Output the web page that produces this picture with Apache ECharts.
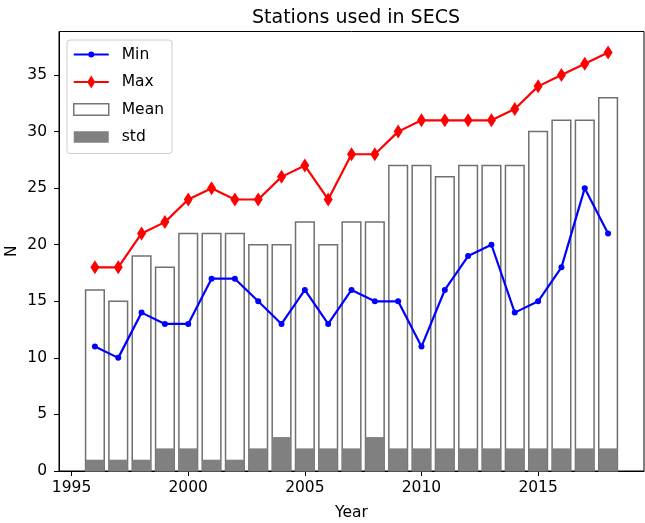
<!DOCTYPE html>
<html>
<head>
<meta charset="utf-8">
<script src="https://cdn.jsdelivr.net/npm/echarts@6/dist/echarts.min.js"></script>
<style>html,body{margin:0;padding:0;background:#fff}#c{width:645px;height:523px}</style>
</head>
<body>
<div id="c"></div>
<script>
var years = [1996,1997,1998,1999,2000,2001,2002,2003,2004,2005,2006,2007,2008,2009,2010,2011,2012,2013,2014,2015,2016,2017,2018];
var minVals = [11,10,14,13,13,17,17,15,13,16,13,16,15,15,11,16,19,20,14,15,18,25,21];
var maxVals = [18,18,21,22,24,25,24,24,26,27,24,28,28,30,31,31,31,31,32,34,35,36,37];
var meanVals = [16,15,19,18,21,21,21,20,20,22,20,22,22,27,27,26,27,27,27,30,31,31,33];
var stdVals = [1,1,1,2,2,1,1,2,3,2,2,2,3,2,2,2,2,2,2,2,2,2,2];
var xTicks = [1995,2000,2005,2010,2015];
var yTicks = [0,5,10,15,20,25,30,35];

var FONT = 'DejaVu Sans';
var chart = echarts.init(document.getElementById('c'), null, {renderer: 'canvas'});

function pairs(vals){ return years.map(function(y,i){ return [y, vals[i]]; }); }

function barRender(fill, stroke, lw) {
  return function(params, api) {
    var x = api.value(0), v = api.value(1);
    var p0 = api.coord([x - 0.4, v]);
    var p1 = api.coord([x + 0.4, 0]);
    return {
      type: 'rect',
      shape: {x: p0[0], y: p0[1], width: p1[0] - p0[0], height: p1[1] - p0[1]},
      style: {fill: fill, stroke: stroke, lineWidth: lw}
    };
  };
}

var diamond = 'path://M0,-1L0.6,0L0,1L-0.6,0Z';
var iconMin = 'path://M0,5.5L14.6,5.5L14.6,7.5L0,7.5Z M20.4,5.5L35,5.5L35,7.5L20.4,7.5Z M20.5,6.5A3,3 0 1,1 14.5,6.5A3,3 0 1,1 20.5,6.5Z M0,0L0.01,0L0.01,0.01Z M0,13L0.01,13L0.01,12.99Z';
var iconMax = 'path://M0,5.5L13.8,5.5L13.8,7.5L0,7.5Z M21.2,5.5L35,5.5L35,7.5L21.2,7.5Z M17.5,0L21.5,6.5L17.5,13L13.5,6.5Z';
var iconRect = 'path://M0,0L33,0L33,11L0,11Z';

chart.setOption({
  animation: false,
  title: {
    text: 'Stations used in SECS',
    left: 351, top: 4, textAlign: 'center',
    textStyle: {fontFamily: FONT, fontSize: 19, fontWeight: 'normal', color: '#000'}
  },
  grid: {left: 59, right: 1, top: 31.5, bottom: 52, containLabel: false, outerBoundsMode: 'none', show: true, borderColor: '#000', borderWidth: 1, backgroundColor: 'transparent'},
  legend: {
    orient: 'vertical', left: 67, top: 40,
    itemWidth: 35, itemHeight: 13, itemGap: 11.5,
    padding: [6.5, 8, 8.5, 6],
    borderColor: '#cccccc', borderWidth: 1, borderRadius: 3,
    backgroundColor: 'rgba(255,255,255,0.8)',
    textStyle: {fontFamily: FONT, fontSize: 15.5, color: '#000', padding: [0,0,0,8]},
    data: [
      {name: 'Min', icon: iconMin, itemStyle: {color: '#0000ff', borderWidth: 0}},
      {name: 'Max', icon: iconMax, itemStyle: {color: '#ff0000', borderWidth: 0}},
      {name: 'Mean', icon: iconRect, itemStyle: {color: '#ffffff', borderColor: '#777777', borderWidth: 1.5}},
      {name: 'std', icon: iconRect, itemStyle: {color: '#808080', borderWidth: 0}}
    ]
  },
  xAxis: {
    type: 'value', min: 1994.46, max: 2019.54,
    name: 'Year', nameLocation: 'middle', nameGap: 34, nameMoveOverlap: false,
    nameTextStyle: {fontFamily: FONT, fontSize: 15.5, color: '#000'},
    splitLine: {show: false},
    axisLine: {show: true, lineStyle: {color: '#000', width: 1}},
    axisTick: {show: true, inside: false, length: 5, lineStyle: {color: '#000'}, customValues: xTicks},
    axisLabel: {fontFamily: FONT, fontSize: 15.5, color: '#000', margin: 9, customValues: xTicks, formatter: function(v){ return String(v); }}
  },
  yAxis: {
    type: 'value', min: 0, max: 38.85,
    name: 'N', nameLocation: 'middle', nameGap: 39, nameRotate: 90, nameMoveOverlap: false,
    nameTextStyle: {fontFamily: FONT, fontSize: 15.5, color: '#000'},
    splitLine: {show: false},
    axisLine: {show: true, lineStyle: {color: '#000', width: 1}},
    axisTick: {show: true, inside: false, length: 5, lineStyle: {color: '#000'}, customValues: yTicks},
    axisLabel: {fontFamily: FONT, fontSize: 15.5, color: '#000', margin: 12, customValues: yTicks}
  },
  series: [
    {name: 'Mean', type: 'custom', renderItem: barRender('#ffffff', '#707070', 1.5), data: pairs(meanVals), encode: {x: 0, y: 1}, itemStyle: {color: '#ffffff', borderColor: '#707070'}, z: 1},
    {name: 'std', type: 'custom', renderItem: barRender('#808080', null, 0), data: pairs(stdVals), encode: {x: 0, y: 1}, itemStyle: {color: '#808080'}, z: 2},
    {name: 'Min', type: 'line', data: pairs(minVals), symbol: 'circle', symbolSize: 6, color: '#0000ff',
      lineStyle: {color: '#0000ff', width: 2.2}, itemStyle: {color: '#0000ff', borderWidth: 0}, z: 3},
    {name: 'Max', type: 'line', data: pairs(maxVals), symbol: diamond, symbolSize: [9, 14], symbolKeepAspect: false, color: '#ff0000',
      lineStyle: {color: '#ff0000', width: 2.2}, itemStyle: {color: '#ff0000', borderWidth: 0}, z: 4}
  ]
});
</script>
</body>
</html>
